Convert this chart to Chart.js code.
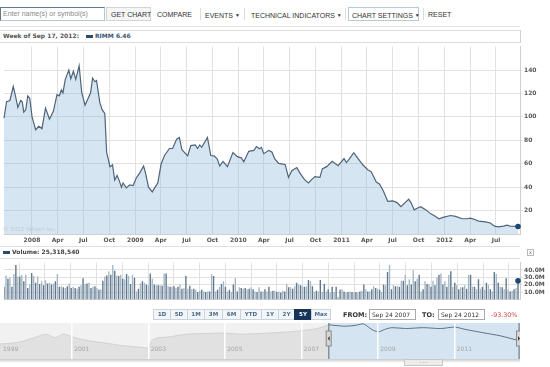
<!DOCTYPE html>
<html><head><meta charset="utf-8">
<script src="https://cdn.jsdelivr.net/npm/chart.js@4"></script>
<style>
body{margin:0;width:550px;height:367px;overflow:hidden;background:#fff;position:relative;font-family:"Liberation Sans",Arial,sans-serif}
.a{position:absolute;white-space:nowrap;box-sizing:border-box}
.tb{font-size:7px;color:#333;top:11px;line-height:8px}
.tri{font-size:5px;vertical-align:1px}
.sep{width:1px;height:12px;top:8px;background:#dcdcdc}
.hd{font-family:"DejaVu Sans";font-weight:bold;font-size:6px;color:#555;line-height:8px}
.btn{top:309px;height:11px;border:1px solid #c9d3dd;background:#f3f6f9;color:#4d6c8c;font-family:"DejaVu Sans";font-weight:bold;font-size:5.6px;line-height:9px;text-align:center}
.box{top:309px;height:11px;border:1px solid #a9a9a9;font-family:"DejaVu Sans";font-size:6px;color:#333;line-height:9px;padding-left:2px}
canvas{position:absolute}
</style></head><body>
<!-- toolbar -->
<div class="a" style="left:0;top:7px;width:105px;height:14px;border:1px solid #5f7892;border-right-color:#b7c4d1;border-bottom-color:#b7c4d1;font-size:7px;color:#8a8a8a;line-height:12px;padding-left:2px">Enter name(s) or symbol(s)</div>
<div class="a" style="left:106px;top:7px;width:45px;height:14px;border:1px solid #d3d3d3;background:#f6f6f6"></div>
<div class="a tb" style="left:111px">GET CHART</div>
<div class="a tb" style="left:157px">COMPARE</div>
<div class="a sep" style="left:200px"></div>
<div class="a tb" style="left:205px">EVENTS <span class="tri">▼</span></div>
<div class="a sep" style="left:244px"></div>
<div class="a tb" style="left:251px">TECHNICAL INDICATORS <span class="tri">▼</span></div>
<div class="a sep" style="left:345px"></div>
<div class="a" style="left:348px;top:7px;width:71px;height:14px;border:1px solid #b6c9dc"></div>
<div class="a tb" style="left:352px">CHART SETTINGS <span class="tri">▼</span></div>
<div class="a sep" style="left:423px"></div>
<div class="a tb" style="left:428px">RESET</div>
<div class="a" style="left:0;top:26px;width:520px;height:1px;background:#e6e6e6"></div>
<!-- price panel -->
<div class="a" style="left:0;top:30px;width:521px;height:13px;border-top:1px solid #dddddd;border-right:1px solid #d0d0d0"></div>
<div class="a" style="left:0;top:42px;width:520px;height:1px;background:#dcdcdc"></div>
<div class="a hd" style="left:3px;top:32px">Week of Sep 17, 2012:</div>
<div class="a" style="left:86px;top:35px;width:7px;height:3px;background:#2c4a6b"></div>
<div class="a hd" style="left:95px;top:32px;color:#3c5470">RIMM 6.46</div>
<canvas id="pc" width="545" height="206" style="left:0;top:42px"></canvas>
<div class="a" style="left:3px;top:226px;font-family:'DejaVu Sans';font-size:5.5px;color:#c4c8cc">© 2012 Yahoo! Inc.</div>
<div class="a" style="left:0;top:246px;width:520px;height:1px;background:#e0e0e0"></div>
<!-- volume panel -->
<div class="a" style="left:3px;top:251px;width:7px;height:3px;background:#2c4a6b"></div>
<div class="a hd" style="left:12px;top:248px;color:#444">Volume: 25,318,540</div>
<div class="a" style="left:527px;top:249px;width:7px;height:7px;border:1px solid #b9b9b9;font-family:'DejaVu Sans';font-size:5px;line-height:5px;text-align:center;color:#666">x</div>
<div class="a" style="left:0;top:258px;width:520px;height:1px;background:#dcdcdc"></div>
<canvas id="vc" width="545" height="46" style="left:0;top:258px"></canvas>
<!-- range row -->
<div class="a btn" style="left:153px;width:18px">1D</div>
<div class="a btn" style="left:170px;width:18px">5D</div>
<div class="a btn" style="left:187px;width:18px">1M</div>
<div class="a btn" style="left:204px;width:19px">3M</div>
<div class="a btn" style="left:222px;width:19px">6M</div>
<div class="a btn" style="left:240px;width:22px">YTD</div>
<div class="a btn" style="left:261px;width:18px">1Y</div>
<div class="a btn" style="left:278px;width:17px">2Y</div>
<div class="a btn" style="left:294px;width:18px;background:#17345b;border-color:#17345b;color:#fff">5Y</div>
<div class="a btn" style="left:311px;width:20px">Max</div>
<div class="a hd" style="left:343px;top:311px;font-size:6.5px;color:#333">FROM:</div>
<div class="a box" style="left:369px;width:47px">Sep 24 2007</div>
<div class="a hd" style="left:422px;top:311px;font-size:6.5px;color:#333">TO:</div>
<div class="a box" style="left:438px;width:47px">Sep 24 2012</div>
<div class="a" style="left:491px;top:311px;font-family:'DejaVu Sans';font-size:6.3px;color:#d23a3a;line-height:8px">-93.30%</div>
<!-- navigator -->
<canvas id="nc" width="520" height="36" style="left:0;top:323px"></canvas>
<div class="a" style="left:0;top:359px;width:520px;height:4px;background:linear-gradient(#c9c9c9,#ffffff)"></div>
<div class="a" style="left:404px;top:359px;width:39px;height:7px;border:1px solid #c8c8c8;background:#ececec;font-size:5px;line-height:4px;text-align:center;color:#999">- - -</div>
<script>
// ---- data ----
const priceWeeks = [0,1.3,3,4.7,5.9,7,8.4,9.2,10,11,12,13,14.2,16,17.6,19.2,21,23,25,26.8,28,29,29.8,31,32.8,33.8,35.1,36.3,38,39.3,41,43.8,44.8,46,46.8,48.5,49.7,51,51.9,53.6,54.9,56,57.2,58.2,59.4,60.2,61.9,63.6,65.3,66.9,68.6,70.6,71.6,73.1,75,76.2,77.8,79.5,81.2,83.7,85.3,87.3,88.7,90,92.9,94.5,96.7,97.9,99,100,102.9,104.6,106.3,107.9,109.1,110.8,113,115.8,118,120,121.3,123.8,126.4,127.7,129.2,130.2,131.4,133.9,135.5,136.9,138.9,142.2,143.9,145.6,148.1,149.7,152,154,155.6,157.3,159.8,161,163.2,166,169,172,173.2,174.8,176.9,179.1,181.6,184.1,185.7,188.3,189.9,191.9,194.1,196.6,198.6,200.8,203,204.7,205.8,207.5,209.2,210.8,213.4,215.9,217.5,220,222.5,225.9,228.4,231.8,234.3,235.9,238.5,240.1,243.5,246,248.1,250.1,252.7,254.4,256,260];
const priceValues = [99,113,114,126,117,108,114,113,104,106,118,116,100,89,92,90,107.5,98,105,119,118,123,120.5,132,140,132.5,139,132,143.6,121,110,120.5,133,130,131,112,106,103,70,57.5,59,46,50,46,40,43.6,39.4,42,41.4,47.8,52,58,52,40,36,39.4,43.6,60,67,73,73,81,82.5,72,66.7,75.5,76,73,76,74,82.5,67,66.7,64,58,62,57.5,69.5,66,65,61.7,70.6,71.4,74.7,72.8,74,68.6,71.4,70,64.4,60.3,59.4,48.3,54,56.7,52,46.4,43.6,46.4,49,48.3,55.6,57.5,62,58.3,64.4,61,64.4,69.4,64.4,58.9,54.7,53.3,44.4,42.8,36.7,27.8,28.3,27,23.3,27,29.7,27,20.6,22.2,23.3,20.6,17.2,15.8,13,14.4,15.8,15,13,13,13.6,12.2,11,10.3,9.4,6.7,6.1,6.7,7.5,6.7,6.46];
// weekly volume in millions, week 0 = Sep 24 2007
const volumeValues = [17.3,32.4,28.1,29.9,17.3,34.6,46.8,31,31,33.5,24.5,33.5,15.5,20.2,36,31.7,22.7,31,20.9,24.5,19.1,25.9,21.6,22.7,20.2,21.6,24.5,34.6,17.3,18,16.6,15.5,18,21.6,15.5,17.3,15.5,14.4,17.3,19.1,28.8,20.9,21.6,22.7,15.5,17.3,18,15.5,13,13.7,25.2,31,32.4,38.2,33.5,46.8,38.9,32.4,31.7,33.5,28.1,27.4,34.6,31.7,20.9,33.5,29.5,10.8,14.4,21.6,24.5,22.7,20.2,19.1,35.3,28.1,20.2,19.1,19.1,19.1,18.7,35.3,35.3,18,17.3,17.3,18,15.5,17.3,20.2,14.4,15.5,31.7,14.4,18.7,13.7,14.4,13,10.1,11.9,13,10.8,10.1,10.8,10.8,34.6,31.7,10.8,13,17.3,20.9,24.5,17.3,10.8,13,10.1,20.2,28.8,10.8,16.6,15.5,14.4,15.5,13.7,14.4,16.6,13.7,10.8,10.1,16.6,10.8,10.8,
13.7,10.8,17.3,10.8,11.9,11.9,10.1,10.8,9.4,11.9,10.8,20.9,16.6,16.6,14.4,18,22.7,20.2,19.1,18,17.3,18,26.3,24.5,18,10.1,11.9,10.8,26.3,10.1,20.9,10.8,13.7,9.4,17.3,10.1,17.3,3.6,13,13.7,10.8,9.4,10.1,10.8,10.1,9.4,10.1,9.4,10.8,11.9,20.2,13.7,10.8,10.8,13.7,18,15.5,14.4,13,10.1,20.2,19.1,37.1,46.8,13.7,19.1,18,18,17.3,25.2,25.2,33.5,19.1,27.4,20.2,39.6,24.5,28.1,33.5,10.8,13.7,24.5,20.9,20.2,17.3,25.2,19.1,29.9,33.5,35.3,20.2,24.5,17.3,33.5,38.2,17.3,22.7,19.1,13.7,16.6,16.6,19.1,14.4,33.5,33.5,17.3,17.3,13.7,27.4,14.4,17.3,13,22.7,19.1,13.7,10.8,37.1,34.6,22.7,17.3,16.6,13.7,28.8,13,10.8,11.9,13.7,15.5,25.3];
const lastVolume = 25.3;
const quarterWeeks = [14.14,27.14,40.14,53.29,66.43,79.29,92.29,105.43,118.57,131.43,144.43,157.57,170.71,183.57,196.57,209.71,222.86,235.86,248.86];
const quarterLabels = ['2008','Apr','Jul','Oct','2009','Apr','Jul','Oct','2010','Apr','Jul','Oct','2011','Apr','Jul','Oct','2012','Apr','Jul'];
const priceTicks = [20,40,60,80,100,120,140];
const volumeTicks = [10,20,30,40];
const navYears = [1999.14,1999.6,2000.06,2000.34,2000.58,2000.79,2000.97,2001.13,2001.44,2001.91,2002.36,2002.83,2003.01,2003.15,2003.56,2004.03,2004.48,2004.95,2005.4,2005.87,2006.34,2006.78,2007.07,2007.44,2007.73,2008.17,2008.46,2008.64,2008.77,2008.9,2009.05,2009.19,2009.38,2009.74,2010.2,2010.66,2011.02,2011.31,2011.76,2012.23,2012.65,2012.73];
const navValues = [41.5,46,60,69,59,69,64,58,51,44,37,32.5,31,55,61.5,69,70.5,72,69,70.5,73,76,79.5,84.6,95,91,94,97.5,88.5,79.5,76,82,87,84.6,87,84.6,88.5,82,73,64,52.5,51];
const navLabelYears = [1999,2001,2003,2005,2007,2009,2011];
const selFrom = 2007.73, selTo = 2012.73;

// ---- charts ----
Chart.defaults.font.family = 'DejaVu Sans';
Chart.defaults.animation = false;
const gridCol = '#e1e1e1';
const tickFont = {size:6, family:'DejaVu Sans', weight:'bold'};
const quarterTicks = s => { s.ticks = quarterWeeks.map(v => ({value:v})); };

new Chart(document.getElementById('pc'), {
  type:'line',
  data:{datasets:[{
    data: priceWeeks.map((w,i)=>({x:w, y:priceValues[i]})),
    borderColor:'#4f6479', borderWidth:1.2, fill:'origin',
    backgroundColor:'rgba(140,185,218,0.37)', tension:0, clip:6,
    pointRadius: c => c.dataIndex === priceValues.length-1 ? 2.8 : 0,
    pointBackgroundColor:'#1e4670', pointBorderWidth:0
  }]},
  options:{responsive:false, animation:false, layout:{padding:0},
    plugins:{legend:{display:false}, tooltip:{enabled:false}},
    scales:{
      x:{type:'linear', min:0, max:261, afterBuildTicks:quarterTicks, afterFit:s=>{s.height=14;},
         ticks:{autoSkip:false, maxRotation:0, font:tickFont, color:'#555', padding:3,
                callback:(v,i)=>quarterLabels[i]},
         grid:{color:gridCol, drawTicks:false}, border:{color:'#cfcfcf'}},
      y:{position:'right', min:0, max:160,
         afterBuildTicks:s=>{s.ticks=[0,...priceTicks,160].map(v=>({value:v}));},
         afterFit:s=>{s.width=25;},
         ticks:{font:tickFont, color:'#555', padding:1, callback:v=>priceTicks.includes(v)?String(v):null},
         grid:{color:gridCol, tickLength:3}, border:{color:'#cfcfcf'}}
    }}
});

new Chart(document.getElementById('vc'), {
  type:'bar',
  data:{datasets:[
    {type:'scatter', data:[{x:volumeValues.length-1, y:lastVolume}], pointRadius:2.8, pointBackgroundColor:'#1e4670', pointBorderWidth:0, clip:false, order:0},
    {data: volumeValues.map((v,i)=>({x:i, y:v})), order:1,
     backgroundColor: c => c.dataIndex % 2 ? '#a6b7c5' : '#5f788d',
     barPercentage:0.7, categoryPercentage:1, grouped:false}
  ]},
  options:{responsive:false, animation:false, layout:{padding:0},
    plugins:{legend:{display:false}, tooltip:{enabled:false}},
    scales:{
      x:{type:'linear', min:0, max:261, offset:false, afterBuildTicks:quarterTicks, afterFit:s=>{s.height=0;},
         ticks:{display:false}, grid:{color:gridCol, drawTicks:false}, border:{color:'#d5d5d5'}},
      y:{position:'right', min:0, max:50,
         afterBuildTicks:s=>{s.ticks=[0,...volumeTicks,50].map(v=>({value:v}));},
         afterFit:s=>{s.width=25;},
         ticks:{font:tickFont, color:'#555', padding:1, callback:v=>volumeTicks.includes(v)?v.toFixed(1)+'M':null},
         grid:{color:gridCol, tickLength:3}, border:{color:'#cfcfcf'}}
    }}
});

const navPlugin = {
  id:'nav',
  beforeDatasetsDraw(c){
    const {ctx, chartArea:a, scales:{x}} = c;
    ctx.save();
    ctx.fillStyle = '#f1f1f1'; ctx.fillRect(a.left, a.top, a.width, a.height);
    const l = x.getPixelForValue(selFrom), r = x.getPixelForValue(selTo);
    ctx.fillStyle = '#d4e4f0'; ctx.fillRect(l, a.top, r-l, a.height);
    ctx.restore();
  },
  afterDatasetsDraw(c){
    const {ctx, chartArea:a, scales:{x}} = c;
    ctx.save();
    ctx.font = '6px "DejaVu Sans"'; ctx.textBaseline = 'middle';
    navLabelYears.forEach(yv => {
      let px = x.getPixelForValue(yv);
      if (px > a.left + 1) {
        ctx.fillStyle = '#ffffff'; ctx.fillRect(Math.round(px), a.top, 1.5, a.height);
      } else px = a.left;
      ctx.fillStyle = '#a7a7a7'; ctx.fillText(String(yv), px + 3, a.top + 26);
    });
    [selFrom, selTo].forEach((sv, k) => {
      const px = Math.min(x.getPixelForValue(sv), a.right - 1);
      ctx.fillStyle = '#6b7f92'; ctx.fillRect(px - 0.5, a.top, 1.2, a.height);
      ctx.fillStyle = '#d6d6d6'; ctx.strokeStyle = '#8a8a8a'; ctx.lineWidth = 1;
      ctx.fillRect(px - 2.5, a.top + 8, 5, 15); ctx.strokeRect(px - 2.5, a.top + 8, 5, 15);
      ctx.fillStyle = '#444';
      ctx.beginPath();
      if (k === 0) { ctx.moveTo(px + 1, a.top + 13); ctx.lineTo(px - 1, a.top + 15.5); ctx.lineTo(px + 1, a.top + 18); }
      else { ctx.moveTo(px - 1, a.top + 13); ctx.lineTo(px + 1, a.top + 15.5); ctx.lineTo(px - 1, a.top + 18); }
      ctx.fill();
    });
    ctx.restore();
  }
};

const navPts = navYears.map((y,i)=>({x:y, y:navValues[i]}));
new Chart(document.getElementById('nc'), {
  type:'line',
  data:{datasets:[
    {data: navPts.filter(p=>p.x<=selFrom), borderColor:'#d2d2d2', borderWidth:1, backgroundColor:'#e1e1e1', fill:'origin', pointRadius:0, tension:0.3},
    {data: navPts.filter(p=>p.x>=selFrom), borderColor:'#5e7489', borderWidth:1, backgroundColor:'#d4e4f0', fill:'origin', pointRadius:0, tension:0.3}
  ]},
  plugins:[navPlugin],
  options:{responsive:false, animation:false, layout:{padding:0},
    plugins:{legend:{display:false}, tooltip:{enabled:false}},
    scales:{
      x:{type:'linear', min:1999.14, max:selTo, afterFit:s=>{s.height=0;}, ticks:{display:false}, grid:{display:false}, border:{display:false}},
      y:{display:false, min:0, max:100}
    }}
});
</script>
</body></html>
